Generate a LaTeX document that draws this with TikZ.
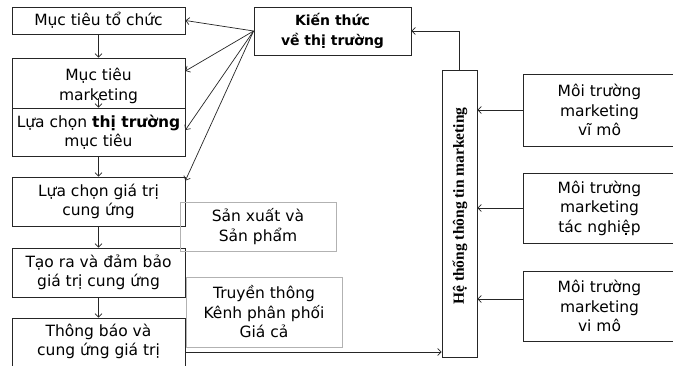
\documentclass[tikz,border=0pt]{standalone}
\usepackage{fontspec}
\setmainfont{DejaVu Sans}
\newfontfamily\htfont{Liberation Serif}
\usetikzlibrary{arrows.meta}
\begin{document}
\begin{tikzpicture}[x=1pt,y=-1pt,
  box/.style={draw=black!85, line width=0.8pt, align=center, inner sep=0pt, font=\fontsize{15.5}{19.5}\selectfont},
  graybox/.style={draw=black!30, line width=0.8pt, align=center, inner sep=0pt, font=\fontsize{15.5}{19.5}\selectfont},
  kbox/.style={draw=black!85, line width=0.8pt, align=center, inner sep=0pt, font=\bfseries\fontsize{14}{20}\selectfont},
  lbl/.style={align=center, inner sep=0pt, font=\fontsize{15.5}{19.5}\selectfont},
  arr/.style={draw=black!85, line width=0.7pt, -{Straight Barb[length=3.5pt,width=7pt]}},
]
\useasboundingbox (0,0) rectangle (673,366);
\clip (0,0) rectangle (673,366);
\fill[white] (0,0) rectangle (673,366);

% left column
\node[box, minimum width=173pt, minimum height=27pt] (b1) at (98.5,20.5) {Mục tiêu tổ chức};
\node[box, minimum width=173pt, minimum height=50pt] (b2) at (98.5,83) {};
\node[lbl] (b2t) at (98.5,86) {Mục tiêu\\marketing};
\node[box, minimum width=173pt, minimum height=48pt] (b3) at (98.5,132) {Lựa chọn \textbf{thị trường}\\mục tiêu};
\node[box, minimum width=173pt, minimum height=49pt] (b4) at (98.5,201.5) {Lựa chọn giá trị\\cung ứng};
\node[box, minimum width=173pt, minimum height=49pt] (b5) at (98.5,272.5) {Tạo ra và đảm bảo\\giá trị cung ứng};
\node[box, minimum width=173pt, minimum height=50pt] (b6) at (98.5,343) {};
\node[lbl] (b6t) at (98.5,341.5) {Thông báo và\\cung ứng giá trị};

% gray boxes
\node[graybox, minimum width=156pt, minimum height=49pt] (g1) at (258,226.5) {Sản xuất và\\Sản phẩm};
\node[graybox, minimum width=156pt, minimum height=70pt] (g2) at (264,312) {Truyền thông\\Kênh phân phối\\Giá cả};

% market knowledge
\node[kbox, minimum width=157pt, minimum height=48pt] (kt) at (332.5,31) {Kiến thức\\về thị trường};

% information system
\node[box, minimum width=35pt, minimum height=287pt] (ht) at (459.5,213.5) {};
\node[rotate=90, inner sep=0pt, font=\htfont\bfseries\fontsize{15.5}{18}\selectfont] (htt) at (460,206) {Hệ thống thông tin marketing};

% right boxes
\node[box, minimum width=153pt, minimum height=72pt] (r1) at (599.5,110) {Môi trường\\marketing\\vĩ mô};
\node[box, minimum width=153pt, minimum height=70pt] (r2) at (599.5,208) {Môi trường\\marketing\\tác nghiệp};
\node[box, minimum width=153pt, minimum height=70pt] (r3) at (599.5,306) {Môi trường\\marketing\\vi mô};

% vertical flow
\draw[arr] (b1.south) -- (b2.north);
\coordinate (m23) at (98.5,98);
\draw[arr] (m23) -- (b3.north);
\draw[arr] (b3.south) -- (b4.north);
\draw[arr] (b4.south) -- (b5.north);
\draw[arr] (b5.south) -- (b6.north);

% knowledge fan
\draw[arr] (kt.west) -- (b1.east);
\draw[arr] (kt.west) -- ([yshift=12pt]b2.east);
\draw[arr] (kt.west) -- ([yshift=2pt]b3.east);
\draw[arr] (kt.west) -- ([yshift=-4pt]b4.north east);

% system to knowledge
\draw[arr] (ht.north) |- (kt.east);

% bottom arrow
\coordinate (s6) at (185,352);
\draw[arr] (s6) -- (s6 -| ht.west);

% environment arrows
\draw[arr] (r1.west) -- (r1.west -| ht.east);
\draw[arr] (r2.west) -- (r2.west -| ht.east);
\coordinate (r3a) at ([yshift=7pt]r3.west);
\draw[arr] (r3a) -- (r3a -| ht.east);
\end{tikzpicture}
\end{document}
